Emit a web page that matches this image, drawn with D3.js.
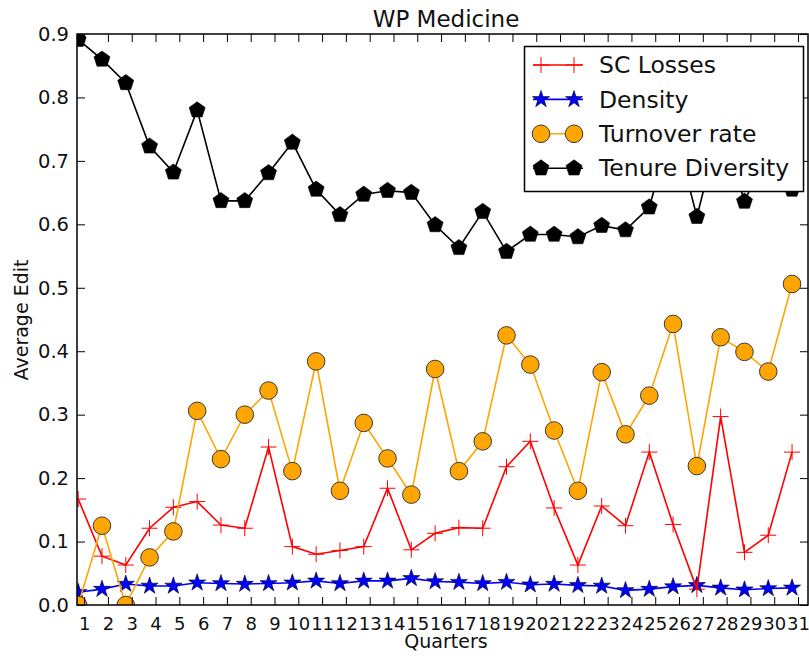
<!DOCTYPE html>
<html>
<head>
<meta charset="utf-8">
<script src="https://cdn.jsdelivr.net/npm/d3@7"></script>
<style>
  body { margin: 0; background: #fff; }
  text { font-family: "DejaVu Sans", sans-serif; fill: #111; }
</style>
</head>
<body>
<script>
// WP Medicine - average edit per quarter

var quarters = d3.range(1, 32);
var yTicks = [0.0, 0.1, 0.2, 0.3, 0.4, 0.5, 0.6, 0.7, 0.8, 0.9];

var scLosses = [0.167, 0.077, 0.063, 0.121, 0.154, 0.163, 0.126, 0.121, 0.249, 0.092, 0.080,
  0.086, 0.092, 0.184, 0.087, 0.113, 0.122, 0.121, 0.218, 0.258, 0.153, 0.063, 0.156, 0.125,
  0.241, 0.127, 0.025, 0.297, 0.083, 0.110, 0.241];
var density = [0.020, 0.025, 0.033, 0.030, 0.030, 0.035, 0.034, 0.033, 0.034, 0.035, 0.038,
  0.034, 0.038, 0.038, 0.042, 0.037, 0.036, 0.034, 0.036, 0.032, 0.033, 0.031, 0.030, 0.023,
  0.025, 0.029, 0.031, 0.027, 0.024, 0.026, 0.027];
var turnover = [0.0, 0.125, 0.0, 0.075, 0.116, 0.306, 0.230, 0.300, 0.338, 0.211, 0.384,
  0.180, 0.287, 0.231, 0.174, 0.372, 0.211, 0.258, 0.425, 0.379, 0.275, 0.180, 0.367, 0.269,
  0.330, 0.443, 0.219, 0.422, 0.399, 0.368, 0.506];
var tenure = [0.891, 0.860, 0.823, 0.723, 0.682, 0.780, 0.637, 0.637, 0.681, 0.729, 0.655,
  0.615, 0.647, 0.653, 0.650, 0.599, 0.563, 0.620, 0.557, 0.584, 0.584, 0.580, 0.598, 0.591,
  0.627, 0.760, 0.612, 0.760, 0.636, 0.720, 0.655];

var W = 809, H = 656;
var pLeft = 77, pRight = 808, pTop = 34, pBottom = 605;

var x = d3.scaleLinear().domain([0.7, 31.42]).range([pLeft, pRight]);
var y = d3.scaleLinear().domain([0, 0.9]).range([pBottom, pTop]);
var shift = 0.25; // points sit a bit left of the tick labels

var svg = d3.select("body").append("svg")
    .attr("width", W)
    .attr("height", H);

svg.append("defs").append("clipPath").attr("id", "plotclip")
  .append("rect")
    .attr("x", pLeft).attr("y", pTop)
    .attr("width", pRight - pLeft).attr("height", pBottom - pTop);

// marker shapes
function starPath(r) {
  var pts = [];
  for (var i = 0; i < 10; i++) {
    var a = -Math.PI / 2 + i * Math.PI / 5;
    var rr = i % 2 === 0 ? r : r * 0.382;
    pts.push([rr * Math.cos(a), rr * Math.sin(a)]);
  }
  return "M" + pts.join("L") + "Z";
}
function pentagonPath(r) {
  var pts = [];
  for (var i = 0; i < 5; i++) {
    var a = -Math.PI / 2 + i * 2 * Math.PI / 5;
    pts.push([r * Math.cos(a), r * Math.sin(a)]);
  }
  return "M" + pts.join("L") + "Z";
}
function plusPath(r) {
  return "M" + (-r) + ",0H" + r + "M0," + (-r) + "V" + r;
}

var series = [
  {name: "Density", values: density, color: "#0000ff", marker: "star"},
  {name: "SC Losses", values: scLosses, color: "#ff0000", marker: "plus"},
  {name: "Turnover rate", values: turnover, color: "#ffa500", marker: "circle"},
  {name: "Tenure Diversity", values: tenure, color: "#000000", marker: "pentagon"}
];
var legendOrder = ["SC Losses", "Density", "Turnover rate", "Tenure Diversity"];

function drawMarker(g, type, color) {
  if (type === "circle") {
    g.append("circle").attr("r", 8.8)
      .attr("fill", color).attr("stroke", "#3a3a3a").attr("stroke-width", 1);
  } else if (type === "star") {
    g.append("path").attr("d", starPath(9))
      .attr("fill", color).attr("stroke", "#000").attr("stroke-width", 0.6);
  } else if (type === "pentagon") {
    g.append("path").attr("d", pentagonPath(8.4))
      .attr("fill", color).attr("stroke", "#000").attr("stroke-width", 0.6);
  } else {
    g.append("path").attr("d", plusPath(8))
      .attr("fill", "none").attr("stroke", color).attr("stroke-width", 1);
  }
}

var line = d3.line()
    .x(function(d, i) { return x(quarters[i] - shift); })
    .y(function(d) { return y(d); });

var plot = svg.append("g").attr("clip-path", "url(#plotclip)");

series.forEach(function(s) {
  var g = plot.append("g");
  g.append("path")
      .datum(s.values)
      .attr("d", line)
      .attr("fill", "none")
      .attr("stroke", s.color)
      .attr("stroke-width", 1.6);
  g.selectAll(".m")
      .data(s.values)
      .enter()
    .append("g")
      .attr("transform", function(d, i) {
        return "translate(" + x(quarters[i] - shift) + "," + y(d) + ")";
      })
      .each(function() { drawMarker(d3.select(this), s.marker, s.color); });
});

// axes: ticks pointing inward on all four sides
var xBottom = d3.axisBottom(x).tickValues(quarters).tickSize(-8).tickPadding(12)
    .tickFormat(d3.format("d"));
var xTop = d3.axisTop(x).tickValues(quarters).tickSize(-8).tickFormat("");
var yLeft = d3.axisLeft(y).tickValues(yTicks).tickSize(-8).tickPadding(8)
    .tickFormat(d3.format(".1f"));
var yRight = d3.axisRight(y).tickValues(yTicks).tickSize(-8).tickFormat("");

function styleAxis(g, size) {
  g.select(".domain").remove();
  g.selectAll(".tick line").attr("stroke", "#000").attr("stroke-width", 1);
  g.selectAll("text").attr("font-size", size).attr("fill", "#111")
    .attr("font-family", "DejaVu Sans");
}

svg.append("g").attr("transform", "translate(0," + pBottom + ")").call(xBottom).call(styleAxis, "18px");
svg.append("g").attr("transform", "translate(0," + pTop + ")").call(xTop).call(styleAxis, "18px");
svg.append("g").attr("transform", "translate(" + pLeft + ",0)").call(yLeft).call(styleAxis, "19.5px");
svg.append("g").attr("transform", "translate(" + pRight + ",0)").call(yRight).call(styleAxis, "18px");

svg.append("rect")
    .attr("x", pLeft).attr("y", pTop)
    .attr("width", pRight - pLeft).attr("height", pBottom - pTop)
    .attr("fill", "none").attr("stroke", "#000").attr("stroke-width", 1.5);

// titles
svg.append("text")
    .attr("x", 446).attr("y", 27)
    .attr("text-anchor", "middle")
    .attr("font-size", "23px")
    .text("WP Medicine");

svg.append("text")
    .attr("x", 446).attr("y", 648)
    .attr("text-anchor", "middle")
    .attr("font-size", "19px")
    .text("Quarters");

svg.append("text")
    .attr("transform", "translate(28,320) rotate(-90)")
    .attr("text-anchor", "middle")
    .attr("font-size", "19px")
    .text("Average Edit");

// legend
var legend = svg.append("g");
legend.append("rect")
    .attr("x", 524.5).attr("y", 46.5)
    .attr("width", 279).attr("height", 145)
    .attr("fill", "#fff").attr("stroke", "#000").attr("stroke-width", 1.5);

legendOrder.forEach(function(name, k) {
  var s = series.filter(function(d) { return d.name === name; })[0];
  var ly = 65 + k * 34.4;
  legend.append("line")
      .attr("x1", 533).attr("x2", 583).attr("y1", ly).attr("y2", ly)
      .attr("stroke", s.color).attr("stroke-width", 1.6);
  [541, 574].forEach(function(mx) {
    var g = legend.append("g").attr("transform", "translate(" + mx + "," + ly + ")");
    drawMarker(g, s.marker, s.color);
  });
  legend.append("text")
      .attr("x", 599).attr("y", ly)
      .attr("dy", "0.35em")
      .attr("font-size", "23.5px")
      .text(name);
});
</script>
</body>
</html>
